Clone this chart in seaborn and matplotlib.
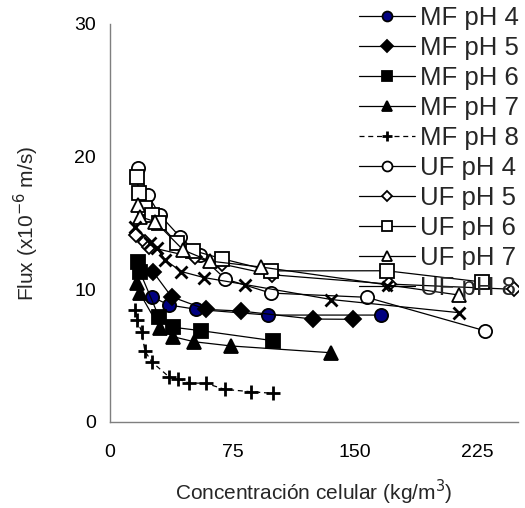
import matplotlib
matplotlib.use("Agg")
import matplotlib.pyplot as plt
import seaborn as sns
import pandas as pd

# ---- data ----
mf4_x = [25.5, 36.2, 53.0, 96.8, 166.0]
mf4_y = [9.44, 8.82, 8.49, 8.06, 8.06]
mf5_x = [26.5, 37.7, 58.7, 80.5, 124.3, 149.1]
mf5_y = [11.3, 9.44, 8.49, 8.36, 7.76, 7.74]
mf6_x = [17.3, 18.3, 30.1, 38.7, 56.0, 99.8]
mf6_y = [12.08, 11.33, 7.89, 7.14, 6.88, 6.13]
mf7_x = [16.7, 18.3, 30.6, 38.7, 51.5, 74.4, 135.5]
mf7_y = [10.45, 9.70, 7.06, 6.43, 6.05, 5.73, 5.22]
mf8_x = [15.3, 16.8, 19.4, 21.4, 25.7, 36.1, 41.6, 48.3, 58.7, 70.3, 86.6, 99.8]
mf8_y = [8.44, 7.69, 6.78, 5.35, 4.52, 3.41, 3.26, 2.94, 2.92, 2.46, 2.28, 2.16]
uf4_x = [17.1, 23.2, 30.6, 43.0, 55.0, 70.7, 98.4, 157.3, 229.6]
uf4_y = [19.12, 17.11, 15.6, 13.94, 12.58, 10.78, 9.72, 9.40, 6.88]
uf5_x = [15.9, 21.6, 23.6, 52.0, 68.8, 99.0, 171.0, 247.6]
uf5_y = [14.1, 13.6, 13.2, 12.4, 11.9, 11.1, 10.4, 10.0]
uf6_x = [16.5, 17.7, 21.6, 25.7, 29.9, 41.0, 51.0, 68.5, 98.8, 169.5, 228.2]
uf6_y = [18.49, 17.24, 16.1, 15.6, 15.0, 13.5, 12.92, 12.31, 11.39, 11.40, 10.55]
uf7_x = [17.1, 18.5, 27.7, 44.9, 61.1, 92.7, 213.9]
uf7_y = [16.35, 15.47, 15.1, 12.96, 12.13, 11.68, 9.57]
uf8_x = [15.3, 24.5, 28.7, 33.9, 43.7, 57.5, 82.8, 135.7, 213.9]
uf8_y = [14.7, 13.5, 13.1, 12.2, 11.34, 10.89, 10.36, 9.23, 8.24]

series_names = ["MF pH 4", "MF pH 5", "MF pH 6", "MF pH 7", "MF pH 8",
                "UF pH 4", "UF pH 5", "UF pH 6", "UF pH 7", "UF pH 8"]
xs = [mf4_x, mf5_x, mf6_x, mf7_x, mf8_x, uf4_x, uf5_x, uf6_x, uf7_x, uf8_x]
ys = [mf4_y, mf5_y, mf6_y, mf7_y, mf8_y, uf4_y, uf5_y, uf6_y, uf7_y, uf8_y]

x_ticks = [0, 75, 150, 225]
y_ticks = [0, 10, 20, 30]

# ---- styles ----
styles = {
    "MF pH 4": dict(marker="o", mfc="#000080", ms=9.5, ls="-"),
    "MF pH 5": dict(marker="D", mfc="black", ms=8.5, ls="-"),
    "MF pH 6": dict(marker="s", mfc="black", ms=9.5, ls="-"),
    "MF pH 7": dict(marker="^", mfc="black", ms=10.5, ls="-"),
    "MF pH 8": dict(marker="+", mfc="black", ms=10, ls=(0, (4, 3))),
    "UF pH 4": dict(marker="o", mfc="white", ms=9.5, ls="-"),
    "UF pH 5": dict(marker="D", mfc="white", ms=7, ls="-"),
    "UF pH 6": dict(marker="s", mfc="white", ms=9.5, ls="-"),
    "UF pH 7": dict(marker="^", mfc="white", ms=10.5, ls="-"),
    "UF pH 8": dict(marker="x", mfc="black", ms=9, ls="-"),
}

sns.set_theme(style="white")
plt.rcParams["font.family"] = ["Liberation Sans", "DejaVu Sans"]

fig = plt.figure(figsize=(5.25, 5.08), dpi=100)
ax = fig.add_axes([110/525, 1-422/508, (518-110)/525, (422-24)/508])

for name, x, y in zip(series_names, xs, ys):
    st = styles[name]
    df = pd.DataFrame({"x": x, "y": y})
    mew = 2.0 if st["marker"] in ("+", "x") else 1.3
    sns.lineplot(data=df, x="x", y="y", ax=ax, sort=False, estimator=None,
                 color="black", linewidth=0.9, linestyle=st["ls"],
                 marker=st["marker"], markersize=st["ms"],
                 markerfacecolor=st["mfc"], markeredgecolor="black",
                 markeredgewidth=mew, label=name)

ax.set_xlim(0, 250)
ax.set_ylim(0, 30)
ax.set_xticks(x_ticks)
ax.set_yticks(y_ticks)
ax.set_xticklabels([str(t) for t in x_ticks])
ax.set_yticklabels([str(t) for t in y_ticks])

for s in ["top", "right"]:
    ax.spines[s].set_visible(False)
for s in ["left", "bottom"]:
    ax.spines[s].set_color("#7f7f7f")
    ax.spines[s].set_linewidth(1.0)

ax.tick_params(axis="both", which="major", direction="out", length=5,
               width=1, color="#7f7f7f", labelsize=14, labelcolor="black")
ax.tick_params(axis="x", pad=11)
ax.tick_params(axis="y", pad=5)

ax.set_xlabel("Concentración celular (kg/m$^3$)", fontsize=15, labelpad=12)
ax.set_ylabel("Flux (x10$^{-6}$ m/s)", fontsize=15, labelpad=24)

leg = ax.legend(loc="upper right", bbox_to_anchor=(1.0, 1.0),
                bbox_transform=fig.transFigure, frameon=False,
                fontsize=18.5, handlelength=2.15, handletextpad=0.2,
                labelspacing=0.23, borderaxespad=0.1, markerscale=0.75,
                borderpad=0.15)
ax.grid(False)

fig.savefig("out.png", dpi=100)
